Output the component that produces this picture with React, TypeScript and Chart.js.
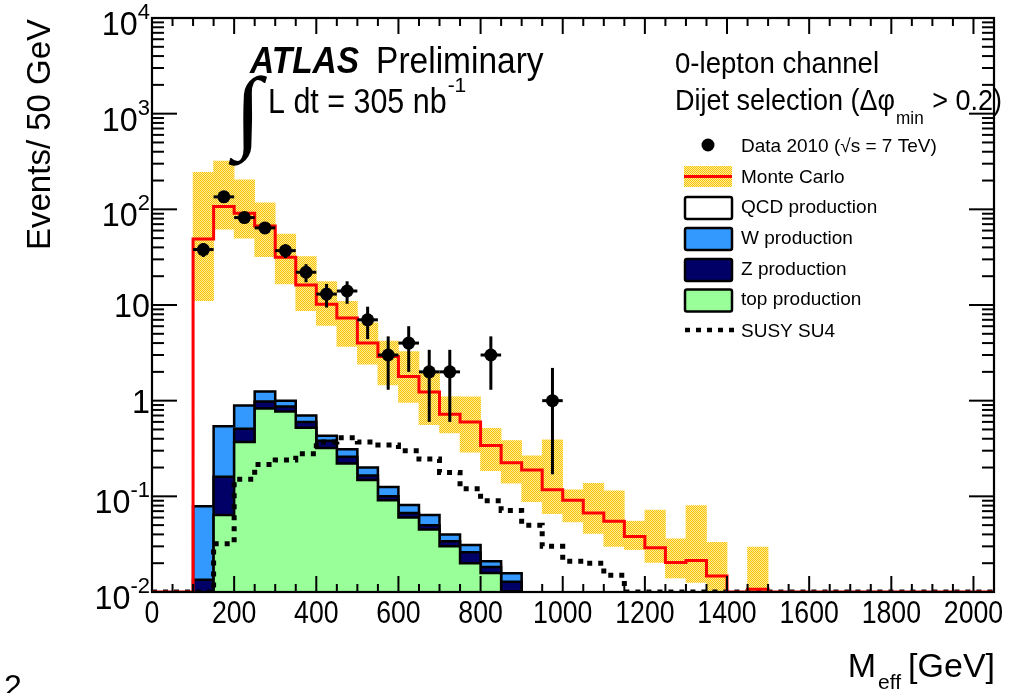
import React, { useEffect, useRef } from "react";
import { Chart, registerables } from "chart.js";

Chart.register(...registerables);

// ---------------- data ----------------
const BIN_LOW = [
  0, 50, 100, 150, 200, 250, 300, 350, 400, 450, 500, 550, 600, 650, 700, 750, 800, 850, 900, 950,
  1000, 1050, 1100, 1150, 1200, 1250, 1300, 1350, 1400, 1450, 1500, 1550, 1600, 1650, 1700, 1750,
  1800, 1850, 1900, 1950, 2000,
];
const BIN_WIDTH = 50;
const X_MIN = 0;
const X_MAX = 2050;
const Y_MIN = 0.01;
const Y_MAX = 10000;

// total Monte Carlo (red line)
const MC_TOTAL = [
  0, 0, 49, 107, 91, 67, 31.5, 16.2, 10.2, 7.3, 4.0, 2.9, 1.79, 1.23, 0.72, 0.6, 0.34, 0.224, 0.189, 0.117,
  0.091, 0.067, 0.055, 0.038, 0.029, 0.0204, 0.0214, 0.0147, 0, 0.0107, 0, 0, 0, 0, 0, 0,
  0, 0, 0, 0, 0,
];
// MC uncertainty band
const MC_BAND_LOW = [
  null, null, 11.1, 62, 50, 32, 16.6, 8.7, 6.1, 3.7, 2.4, 1.46, 0.96, 0.56, 0.46, 0.29, 0.186, 0.137, 0.088, 0.066,
  0.054, 0.041, 0.03, 0.0278, 0.0204, 0.014, 0.0126, 0.01, null, 0.01, null, null, null, null, null, null,
  null, null, null, null, null,
];
const MC_BAND_HIGH = [
  null, null, 244, 320, 203, 117, 55, 32, 17.6, 10.9, 6.5, 4.2, 3.26, 1.95, 1.1, 1.1, 0.515, 0.383, 0.265, 0.39,
  0.117, 0.137, 0.114, 0.055, 0.072, 0.036, 0.08, 0.033, null, 0.0294, null, null, null, null, null, null,
  null, null, null, null, null,
];
// stacked backgrounds (cumulative heights): top, top+Z, top+Z+W
const STACK_TOP = [
  0, 0, 0, 0.064, 0.37, 0.83, 0.77, 0.52, 0.32, 0.22, 0.148, 0.091, 0.06, 0.045, 0.03, 0.02, 0.0158, 0.0102, 0, 0,
  0, 0, 0, 0, 0, 0, 0, 0, 0, 0, 0, 0, 0, 0, 0, 0, 0, 0, 0, 0, 0,
];
const STACK_TOP_Z = [
  0, 0, 0.0134, 0.16, 0.51, 0.98, 0.87, 0.6, 0.38, 0.26, 0.165, 0.1, 0.067, 0.05, 0.034, 0.026, 0.0183, 0.0128, 0, 0,
  0, 0, 0, 0, 0, 0, 0, 0, 0, 0, 0, 0, 0, 0, 0, 0, 0, 0, 0, 0, 0,
];
const STACK_TOP_Z_W = [
  0, 0, 0.079, 0.54, 0.89, 1.25, 1.0, 0.7, 0.43, 0.31, 0.2, 0.125, 0.081, 0.064, 0.04, 0.031, 0.021, 0.0157, 0, 0,
  0, 0, 0, 0, 0, 0, 0, 0, 0, 0, 0, 0, 0, 0, 0, 0, 0, 0, 0, 0, 0,
];
// SUSY SU4 signal
const SUSY_SU4 = [
  0, 0, 0, 0.032, 0.151, 0.215, 0.24, 0.278, 0.37, 0.41, 0.37, 0.345, 0.3, 0.245, 0.178, 0.12, 0.09, 0.071, 0.05, 0.03,
  0.021, 0.02, 0.015, 0, 0, 0, 0, 0, 0, 0, 0, 0, 0, 0, 0, 0, 0, 0, 0, 0, 0,
];
// data 2010
const DATA_X = [125, 175, 225, 275, 325, 375, 425, 475, 525, 575, 625, 675, 725, 825, 975];
const DATA_Y = [38, 135, 82, 64, 37, 22, 13, 14, 7, 3, 4, 2, 2, 3, 1];
const DATA_ERR_LO = [6.2, 11.6, 9.1, 8, 6.1, 4.7, 3.6, 3.7, 2.6, 1.7, 2, 1.4, 1.4, 1.7, 0.83];
const DATA_ERR_HI = [6.2, 11.6, 9.1, 8, 6.1, 4.7, 3.6, 3.7, 2.6, 1.7, 2, 1.4, 1.4, 1.7, 1.2];

const X_TICK_VALUES = [0, 200, 400, 600, 800, 1000, 1200, 1400, 1600, 1800, 2000];
const X_TICK_LABELS = ["0", "200", "400", "600", "800", "1000", "1200", "1400", "1600", "1800", "2000"];
const Y_TICK_VALUES = [0.01, 0.1, 1, 10, 100, 1000, 10000];
const Y_TICK_LABELS: [string, string][] = [
  ["10", "-2"], ["10", "-1"], ["1", ""], ["10", ""], ["10", "2"], ["10", "3"], ["10", "4"],
];

const COL_W = "#3399ff";
const COL_Z = "#000066";
const COL_TOP = "#99ff99";
const COL_MC = "#ff0000";
const BAND_A = "#f8c400";
const BAND_B = "#ffeb99";
const SANS = '"Liberation Sans", Arial, Helvetica, sans-serif';
const DATA_LABEL = "Data 2010";

// ---------------- helpers ----------------
function drawText(
  ctx: CanvasRenderingContext2D,
  s: string,
  x: number,
  y: number,
  size: number,
  o: { bold?: boolean; italic?: boolean; align?: string; sx?: number; family?: string } = {}
) {
  ctx.save();
  ctx.font = `${o.italic ? "italic " : ""}${o.bold ? "bold " : ""}${size}px ${o.family || SANS}`;
  ctx.fillStyle = "#000";
  ctx.textBaseline = "alphabetic";
  ctx.textAlign = "left";
  const sx = o.sx ?? 1;
  const w = ctx.measureText(s).width * sx;
  let x0 = x;
  if (o.align === "right") x0 = x - w;
  else if (o.align === "center") x0 = x - w / 2;
  ctx.translate(x0, y);
  ctx.scale(sx, 1);
  ctx.fillText(s, 0, 0);
  ctx.restore();
  return w;
}
function measure(ctx: CanvasRenderingContext2D, s: string, size: number, sx = 1) {
  ctx.save();
  ctx.font = `${size}px ${SANS}`;
  const w = ctx.measureText(s).width * sx;
  ctx.restore();
  return w;
}
function seg(ctx: CanvasRenderingContext2D, x1: number, y1: number, x2: number, y2: number) {
  ctx.beginPath();
  ctx.moveTo(x1, y1);
  ctx.lineTo(x2, y2);
  ctx.stroke();
}
function stepPoints(vals: number[], floor: number) {
  const pts = BIN_LOW.map((x, i) => ({ x, y: vals[i] > 0 ? vals[i] : floor }));
  pts.push({ x: X_MAX, y: pts[pts.length - 1].y });
  return pts;
}
function makePattern() {
  const pc = document.createElement("canvas");
  pc.width = 2;
  pc.height = 2;
  const p = pc.getContext("2d")!;
  p.fillStyle = BAND_B;
  p.fillRect(0, 0, 2, 2);
  p.fillStyle = BAND_A;
  p.fillRect(0, 0, 1, 1);
  p.fillRect(1, 1, 1, 1);
  return p.createPattern(pc, "repeat")!;
}

function makeDecor(pattern: CanvasPattern) {
  return {
    id: "atlasDecor",
    beforeDatasetDraw(chart: any, args: any) {
      const ds = chart.data.datasets[args.index];
      if (ds.label !== DATA_LABEL) return;
      const ctx: CanvasRenderingContext2D = chart.ctx;
      const xs = chart.scales.x;
      const ys = chart.scales.y;
      ctx.save();
      ctx.strokeStyle = "#000";
      ctx.lineWidth = 3;
      DATA_X.forEach((xc, i) => {
        const px = xs.getPixelForValue(xc);
        const py = ys.getPixelForValue(DATA_Y[i]);
        seg(ctx, px, ys.getPixelForValue(DATA_Y[i] - DATA_ERR_LO[i]), px, ys.getPixelForValue(DATA_Y[i] + DATA_ERR_HI[i]));
        seg(ctx, xs.getPixelForValue(xc - BIN_WIDTH / 2), py, xs.getPixelForValue(xc + BIN_WIDTH / 2), py);
      });
      ctx.restore();
    },
    afterDraw(chart: any) {
      const ctx: CanvasRenderingContext2D = chart.ctx;
      const xs = chart.scales.x;
      const ys = chart.scales.y;
      const a = chart.chartArea;
      ctx.save();
      ctx.strokeStyle = "#000";
      ctx.lineCap = "butt";

      // ticks
      ctx.lineWidth = 2;
      for (let d = -2; d < 4; d++) {
        for (let m = 1; m < 10; m++) {
          const v = m * Math.pow(10, d);
          const py = ys.getPixelForValue(v);
          const len = m === 1 ? 25 : 12;
          seg(ctx, a.left, py, a.left + len, py);
          seg(ctx, a.right - len, py, a.right, py);
        }
      }
      for (let v = X_MIN; v < X_MAX; v += BIN_WIDTH) {
        const px = xs.getPixelForValue(v);
        const len = v % 200 === 0 ? 16 : 8;
        seg(ctx, px, a.bottom, px, a.bottom - len);
        seg(ctx, px, a.top, px, a.top + len);
      }
      // frame
      ctx.lineWidth = 2.2;
      ctx.strokeRect(a.left, a.top, a.right - a.left, a.bottom - a.top);

      // y tick labels
      Y_TICK_VALUES.forEach((v, i) => {
        const py = ys.getPixelForValue(v);
        const [base, exp] = Y_TICK_LABELS[i];
        const right = 150;
        const wExp = exp ? measure(ctx, exp, 22) : 0;
        const wBase = measure(ctx, base, 34, 0.95);
        const baseline = py + (exp ? 17 : 12);
        drawText(ctx, base, right - wExp - wBase, baseline, 34, { sx: 0.95 });
        if (exp) drawText(ctx, exp, right - wExp, baseline - 16, 22);
      });
      // x tick labels
      X_TICK_VALUES.forEach((v, i) => {
        drawText(ctx, X_TICK_LABELS[i], xs.getPixelForValue(v), 623, 31, { align: "center", sx: 0.86 });
      });

      // axis titles
      ctx.save();
      ctx.translate(50, 250);
      ctx.rotate(-Math.PI / 2);
      drawText(ctx, "Events/ 50 GeV", 0, 0, 33);
      ctx.restore();
      {
        const wM = measure(ctx, "M", 34);
        const wE = measure(ctx, "eff", 21);
        const wG = measure(ctx, "[GeV]", 34);
        let x = 995 - wM - wE - wG - 9;
        drawText(ctx, "M", x, 677, 34);
        x += wM + 2;
        drawText(ctx, "eff", x, 689, 21);
        x += wE + 7;
        drawText(ctx, "[GeV]", x, 677, 34);
      }
      drawText(ctx, "2", 4, 697, 32);

      // ATLAS label
      const wAt = drawText(ctx, "ATLAS", 250, 73, 36, { bold: true, italic: true, sx: 0.93 });
      drawText(ctx, "Preliminary", 250 + wAt + 17, 73, 36, { sx: 0.93 });
      drawText(ctx, "\u222B", 234, 141, 92, { family: '"Liberation Serif", "DejaVu Serif", serif', sx: 1.1 });
      const wL = drawText(ctx, "L dt = 305 nb", 268, 113, 35, { sx: 0.87 });
      drawText(ctx, "-1", 268 + wL + 1, 92, 21);

      // selection labels
      drawText(ctx, "0-lepton channel", 675, 73, 30, { sx: 0.92 });
      {
        let x = 675;
        x += drawText(ctx, "Dijet selection (\u0394\u03C6", x, 110, 30, { sx: 0.9 });
        x += drawText(ctx, "min", x + 1, 124, 19, { sx: 0.9 }) + 2;
        drawText(ctx, " > 0.2)", x, 110, 30, { sx: 0.9 });
      }

      // legend
      const lx0 = 684;
      const lx1 = 732;
      const tx = 741;
      const fs = 19;
      ctx.fillStyle = "#000";
      ctx.beginPath();
      ctx.arc(708, 145, 6.5, 0, Math.PI * 2);
      ctx.fill();
      drawText(ctx, "Data 2010 (\u221As = 7 TeV)", tx, 152, fs);

      ctx.fillStyle = pattern;
      ctx.fillRect(lx0, 166, lx1 - lx0, 21);
      ctx.strokeStyle = COL_MC;
      ctx.lineWidth = 3;
      seg(ctx, lx0, 176.5, lx1, 176.5);
      drawText(ctx, "Monte Carlo", tx, 183, fs);

      const boxes: [string, string, number][] = [
        ["#ffffff", "QCD production", 197],
        [COL_W, "W production", 228],
        [COL_Z, "Z production", 259],
        [COL_TOP, "top production", 289.5],
      ];
      boxes.forEach(([c, label, y]) => {
        ctx.fillStyle = c;
        ctx.strokeStyle = "#000";
        ctx.lineWidth = 2.5;
        ctx.beginPath();
        (ctx as any).roundRect ? (ctx as any).roundRect(lx0 + 1, y, lx1 - lx0 - 1, 22, 2) : ctx.rect(lx0 + 1, y, lx1 - lx0 - 1, 22);
        ctx.fill();
        ctx.stroke();
        drawText(ctx, label, tx, y + 15.5, fs);
      });

      ctx.strokeStyle = "#000";
      ctx.lineWidth = 4.5;
      ctx.setLineDash([5, 6]);
      seg(ctx, lx0 + 1, 330, lx1 + 2, 330);
      ctx.setLineDash([]);
      drawText(ctx, "SUSY SU4", tx, 337, fs);

      ctx.restore();
    },
  };
}

export default function App() {
  const ref = useRef<HTMLCanvasElement | null>(null);
  useEffect(() => {
    const canvas = ref.current;
    if (!canvas) return;
    const pattern = makePattern();
    const datasets: any[] = [
      {
        type: "line",
        label: DATA_LABEL,
        data: DATA_X.map((x, i) => ({ x, y: DATA_Y[i] })),
        showLine: false,
        pointRadius: 6.5,
        pointHoverRadius: 6.5,
        pointBackgroundColor: "#000",
        pointBorderWidth: 0,
        order: 0,
      },
      {
        type: "line",
        label: "Monte Carlo",
        data: stepPoints(MC_TOTAL, Y_MIN),
        stepped: true,
        borderColor: COL_MC,
        borderWidth: 3,
        pointRadius: 0,
        fill: false,
        order: 1,
      },
      {
        type: "line",
        label: "SUSY SU4",
        data: stepPoints(SUSY_SU4, Y_MIN),
        stepped: true,
        borderColor: "#000",
        borderWidth: 5,
        borderDash: [5, 6],
        borderCapStyle: "butt",
        pointRadius: 0,
        fill: false,
        order: 2,
      },
      {
        type: "line",
        label: "top production",
        data: stepPoints(STACK_TOP, 1e-4),
        stepped: true,
        borderColor: "#000",
        borderWidth: 2.5,
        backgroundColor: COL_TOP,
        pointRadius: 0,
        fill: "start",
        order: 3,
      },
      {
        type: "line",
        label: "Z production",
        data: stepPoints(STACK_TOP_Z, 1e-4),
        stepped: true,
        borderColor: "#000",
        borderWidth: 2.5,
        backgroundColor: COL_Z,
        pointRadius: 0,
        fill: "start",
        order: 4,
      },
      {
        type: "line",
        label: "W production",
        data: stepPoints(STACK_TOP_Z_W, 1e-4),
        stepped: true,
        borderColor: "#000",
        borderWidth: 2.5,
        backgroundColor: COL_W,
        pointRadius: 0,
        fill: "start",
        order: 5,
      },
      {
        type: "bar",
        label: "MC uncertainty",
        data: BIN_LOW.map((lo, i) => ({
          x: lo + BIN_WIDTH / 2,
          y: MC_BAND_LOW[i] == null ? null : [MC_BAND_LOW[i], MC_BAND_HIGH[i]],
        })),
        backgroundColor: pattern,
        borderWidth: 0,
        barPercentage: 1,
        categoryPercentage: 1,
        order: 6,
      },
    ];
    const chart = new Chart(canvas, {
      type: "line",
      data: { datasets },
      options: {
        animation: false,
        responsive: false,
        events: [],
        layout: { padding: { left: 152, right: 28, top: 18, bottom: 101 } },
        plugins: { legend: { display: false }, tooltip: { enabled: false }, title: { display: false } },
        scales: {
          x: {
            type: "linear",
            min: X_MIN,
            max: X_MAX,
            offset: false,
            display: false,
            ticks: { stepSize: BIN_WIDTH },
          },
          y: { type: "logarithmic", min: Y_MIN, max: Y_MAX, display: false },
        },
      } as any,
      plugins: [makeDecor(pattern)],
    });
    return () => chart.destroy();
  }, []);
  return (
    <div style={{ position: "absolute", left: 0, top: 0, width: 1022, height: 693, background: "#fff" }}>
      <canvas ref={ref} width={1022} height={693} style={{ width: 1022, height: 693, display: "block" }} />
    </div>
  );
}
